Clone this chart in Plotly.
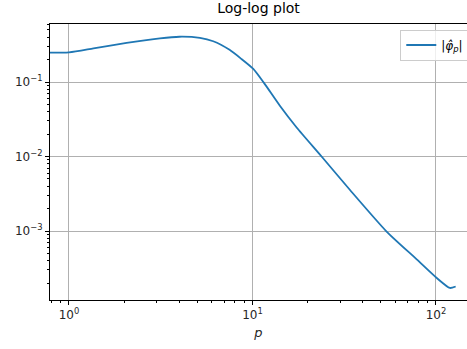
import plotly.graph_objects as go

# data (p, |phi_hat_p|)
p_values = [0.5, 1.0, 1.36, 2.06, 3.13, 4.0, 5.17, 6.11, 7.5, 8.7, 10.1, 11.5,
            14.1, 17.4, 23.8, 34.0, 53.8, 78.5, 101, 119, 128]
phi_abs = [0.25, 0.25, 0.283, 0.335, 0.386, 0.405, 0.391, 0.352, 0.27, 0.204,
           0.150, 0.0988, 0.048, 0.0245, 0.0100, 0.00355, 0.000984, 0.000417,
           0.000234, 0.000172, 0.000180]

x_tickvals = [1, 10, 100]
x_ticktext = ["10<sup>0</sup>", "10<sup>1</sup>", "10<sup>2</sup>"]
y_tickvals = [1e-3, 1e-2, 1e-1]
y_ticktext = ["10<sup>−3</sup>", "10<sup>−2</sup>", "10<sup>−1</sup>"]

x_minor = [m * 10 ** k for k in range(-1, 3) for m in range(2, 10)]
y_minor = [m * 10 ** k for k in range(-5, 1) for m in range(2, 10)]

FONT = "DejaVu Sans"

fig = go.Figure()
fig.add_trace(go.Scatter(
    x=p_values, y=phi_abs, mode="lines",
    line=dict(color="#1f77b4", width=1.8, shape="spline", smoothing=0.6),
    name="|<i>φ̂</i><sub><i>p</i></sub>|",
))

fig.update_layout(
    width=467, height=349,
    margin=dict(l=50, r=0, t=24, b=49, autoexpand=False),
    paper_bgcolor="white", plot_bgcolor="white",
    font=dict(family=FONT, size=12, color="#262626"),
    title=dict(text="Log-log plot", x=0.5, xref="paper", xanchor="center",
               y=1, yref="container", yanchor="top", pad=dict(t=3),
               font=dict(family=FONT, size=14, color="black")),
    showlegend=True,
    legend=dict(x=0.84, y=0.98, xanchor="left", yanchor="top",
                bgcolor="rgba(255,255,255,0.8)", bordercolor="#cccccc",
                borderwidth=1, font=dict(family=FONT, size=12, color="black"),
                itemwidth=30),
)

fig.update_xaxes(
    type="log", range=[-0.1035, 2.169], automargin=False,
    tickvals=x_tickvals, ticktext=x_ticktext,
    ticks="outside", ticklen=4, tickwidth=1, tickcolor="black",
    showline=True, linecolor="black", linewidth=1, mirror=True,
    showgrid=True, gridcolor="#b0b0b0", gridwidth=1,
    zeroline=False,
    tickfont=dict(family=FONT, size=12, color="#262626"),
    minor=dict(tickvals=x_minor, ticks="outside", ticklen=2, tickwidth=0.8,
               tickcolor="black", showgrid=False),
    title=dict(text="<i>p</i>", standoff=6,
               font=dict(family=FONT, size=13, color="#262626")),
)
fig.update_yaxes(
    type="log", range=[-3.926, -0.2215], automargin=False,
    tickvals=y_tickvals, ticktext=y_ticktext,
    ticks="outside", ticklen=4, tickwidth=1, tickcolor="black",
    showline=True, linecolor="black", linewidth=1, mirror=False,
    showgrid=True, gridcolor="#b0b0b0", gridwidth=1,
    zeroline=False,
    tickfont=dict(family=FONT, size=12, color="#262626"),
    minor=dict(tickvals=y_minor, ticks="outside", ticklen=2, tickwidth=0.8,
               tickcolor="black", showgrid=False),
)

fig.write_html("out.html",
               config={"displayModeBar": False},
               post_script="document.body.style.margin='0';"
                           "document.body.style.overflow='hidden';")
